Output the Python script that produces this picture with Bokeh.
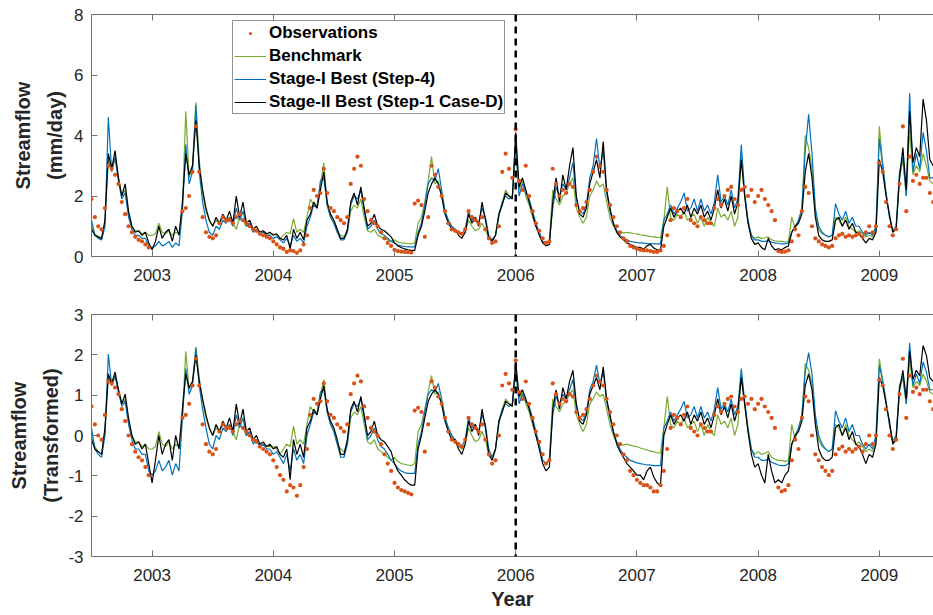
import numpy as np
from bokeh.plotting import figure
from bokeh.models import Span, FixedTicker, LinearAxis, Legend, LegendItem, Range1d
from bokeh.layouts import column
from bokeh.embed import file_html
from bokeh.resources import INLINE

nan = float("nan")

# ---------------- data ----------------
START_YEAR = 2002.5          # first sample (mid 2002)
STEPS_PER_YEAR = 36          # ~10-day samples
X_END = 2009.447
year_ticks = [2003, 2004, 2005, 2006, 2007, 2008, 2009]
split_year = 2006
top_y_ticks = [0, 2, 4, 6, 8]
bottom_y_ticks = [-3, -2, -1, 0, 1, 2, 3]
BOXCOX_LAMBDA = 0.35

# streamflow, mm/day
observations = [
    # 2002 (Jul-Dec)
    1.9, 1.3, 1.0, 0.9, 1.6, 3.0, 2.9, 2.7, 2.4, 1.8, 1.4, 1.0, 0.8, 0.65, 0.55, 0.5, 0.4, 0.3,
    # 2003
    nan, nan, nan, nan, nan, nan, nan, nan, nan, 1.5, 1.6, 2.0, 2.8, 4.3, 2.8, 1.3, 0.8, 0.65,
    0.6, 0.7, 1.1, 1.3, 1.2, 1.2, 1.1, 1.3, 1.4, 1.2, 1.1, 1.0, 0.9, 0.85, 0.75, 0.7, 0.65, 0.6,
    # 2004
    0.5, 0.4, 0.3, 0.25, 0.15, 0.2, 0.18, 0.12, 0.2, 0.4, 0.7, 1.6, 2.2, 2.0, 2.1, 2.9, 2.1, 1.6,
    1.5, 1.3, 1.2, 1.1, 1.3, 2.4, 2.9, 3.3, 3.0, 1.9, 1.5, 1.2, 1.1, 1.0, 0.8, 0.6, 0.45, 0.35,
    # 2005
    0.22, 0.18, 0.16, 0.15, 0.14, 0.13, 1.75, 1.85, 1.7, 0.65, 1.3, 3.0, 2.7, 2.3, 2.0, 1.5, 1.1, 0.9,
    0.85, 0.8, 0.75, 0.9, 1.5, 1.3, 1.2, 1.1, 1.3, 0.9, 0.6, 0.45, 0.5, 1.0, 2.8, 3.4, 2.9, 2.6,
    # 2006
    4.2, 2.5, 2.2, 3.0, 2.0, 1.5, 1.1, 0.85, 0.6, 0.45, 0.5, 2.9, 2.4, 2.0, 2.2, 2.1, 2.4, 2.3,
    1.7, 1.5, 1.6, 1.8, 2.2, 2.8, 3.3, 3.0, 2.8, 2.2, 1.7, 1.3, 1.0, 0.8, 0.6, 0.5, 0.35, 0.3,
    # 2007
    0.25, 0.22, 0.2, 0.2, 0.18, 0.15, 0.15, 0.2, 0.35, 0.7, 1.2, 1.6, 1.5, 1.3, 1.6, 1.9, 1.2, 1.1,
    1.0, 1.3, 1.2, 1.1, 1.1, 1.6, 1.9, 1.7, 2.0, 2.2, 2.3, 1.9, 1.7, 2.2, 2.3, 2.0, 2.2, 1.8,
    # 2008
    2.0, 2.2, 1.9, 1.7, 1.5, 1.2, 0.18, 0.15, 0.16, 0.2, 0.5, 0.9, 0.7, 1.5, 2.3, 2.1, 1.0, 0.6,
    0.5, 0.4, 0.35, 0.3, 0.35, 0.6, 0.7, 0.75, 0.65, 0.7, 0.65, 0.7, 0.75, 0.65, 0.8, 1.0, 0.8, 1.0,
    # 2009 (Jan-Jun)
    3.1, 2.8, 1.8, 1.0, 0.7, 0.9, 2.4, 4.3, 1.5, 3.3, 2.5, 2.7, 2.4, 2.6, 2.6, 2.1, 1.8,
]

benchmark = [
    # 2002 (Jul-Dec)
    1.0, 0.75, 0.65, 0.6, 1.1, 3.2, 2.9, 3.2, 2.6, 2.0, 2.2, 1.4, 1.0, 0.85, 0.85, 0.75, 0.8, 0.7,
    # 2003
    0.7, 0.75, 1.1, 0.8, 0.75, 0.85, 0.7, 0.8, 0.75, 1.6, 4.8, 2.6, 3.0, 5.1, 3.2, 2.1, 1.5, 1.2,
    1.0, 1.2, 1.1, 1.3, 1.2, 1.3, 1.1, 0.9, 1.3, 1.2, 1.0, 1.1, 0.9, 0.9, 0.8, 0.8, 0.75, 0.75,
    # 2004
    0.75, 0.7, 0.6, 0.7, 0.8, 0.75, 1.25, 0.8, 0.9, 0.8, 1.3, 1.9, 1.7, 1.7, 2.4, 3.1, 1.7, 1.3,
    1.1, 0.8, 0.7, 0.65, 0.8, 1.5, 1.7, 1.6, 1.9, 1.3, 0.85, 0.8, 0.9, 0.7, 0.65, 0.6, 0.55, 0.5,
    # 2005
    0.55, 0.48, 0.45, 0.44, 0.43, 0.42, 0.45, 1.1, 1.3, 1.8, 2.5, 3.3, 2.4, 2.5, 2.0, 1.5, 1.2, 1.0,
    0.85, 0.75, 0.7, 0.8, 1.2, 1.0, 0.85, 0.9, 1.1, 0.9, 0.6, 0.55, 0.7, 1.3, 1.8, 2.2, 2.0, 2.0,
    # 2006
    3.5, 2.2, 2.5, 2.0, 1.7, 1.3, 1.0, 0.75, 0.5, 0.45, 0.5, 2.2, 1.9, 1.7, 2.0, 2.1, 2.4, 2.6,
    1.6, 1.3, 1.1, 1.3, 2.0, 2.2, 2.5, 2.3, 2.4, 1.8, 1.3, 1.0, 0.85, 0.8, 0.78, 0.8, 0.78, 0.76,
    # 2007
    0.75, 0.72, 0.7, 0.68, 0.66, 0.65, 0.63, 0.62, 1.2, 2.3, 1.3, 1.2, 1.4, 1.3, 1.5, 1.2, 1.3, 1.4,
    1.1, 1.3, 1.0, 1.3, 1.1, 1.0, 1.6, 1.3, 1.4, 1.2, 1.5, 1.0, 1.3, 3.4, 2.0, 1.1, 0.7, 0.6,
    # 2008
    0.65, 0.6, 0.62, 0.65, 0.55, 0.52, 0.5, 0.5, 0.48, 0.5, 1.3, 0.9, 1.2, 1.5, 4.0, 3.6, 2.9, 1.4,
    0.9, 0.75, 0.7, 0.65, 0.7, 1.3, 1.2, 1.0, 1.3, 1.0, 0.9, 0.8, 0.85, 0.75, 0.65, 0.7, 0.65, 0.85,
    # 2009 (Jan-Jun)
    4.3, 3.1, 2.1, 1.3, 0.85, 1.0, 2.6, 3.2, 2.0, 4.2, 2.7, 3.0, 2.8, 3.4, 3.0, 2.5, 2.4,
]

stage1_best = [
    # 2002 (Jul-Dec)
    1.2, 0.7, 0.6, 0.55, 1.0, 4.6, 2.8, 3.3, 2.5, 1.9, 2.1, 1.3, 0.9, 0.7, 0.7, 0.6, 0.6, 0.35,
    # 2003
    0.3, 0.35, 0.5, 0.35, 0.4, 0.5, 0.3, 0.45, 0.35, 1.5, 3.7, 2.4, 2.8, 5.0, 2.8, 1.8, 1.2, 0.8,
    0.7, 1.0, 0.9, 1.2, 1.1, 1.3, 1.0, 1.6, 1.2, 1.5, 1.0, 1.1, 0.8, 0.9, 0.75, 0.8, 0.7, 0.7,
    # 2004
    0.6, 0.65, 0.55, 0.45, 0.6, 0.35, 0.7, 0.5, 0.6, 0.45, 1.0, 1.3, 1.7, 1.6, 2.5, 2.6, 1.7, 1.3,
    1.1, 0.8, 0.55, 0.55, 0.8, 1.7, 2.0, 1.9, 2.2, 1.5, 0.9, 1.0, 1.2, 0.9, 0.75, 0.7, 0.6, 0.5,
    # 2005
    0.45, 0.38, 0.35, 0.33, 0.32, 0.32, 0.32, 0.8, 1.1, 1.7, 2.4, 2.6, 2.5, 2.9, 2.2, 1.5, 1.2, 1.0,
    0.9, 0.8, 0.75, 0.9, 1.5, 1.2, 1.3, 1.1, 1.6, 1.3, 0.7, 0.55, 0.7, 1.4, 1.8, 2.0, 1.9, 2.0,
    # 2006
    3.8, 2.0, 2.4, 2.1, 1.9, 1.5, 1.1, 0.8, 0.5, 0.45, 0.5, 1.6, 2.3, 2.0, 2.4, 2.2, 2.6, 3.1,
    1.9, 1.5, 1.4, 1.7, 2.6, 3.0, 3.9, 2.9, 3.5, 2.1, 1.5, 1.1, 0.85, 0.7, 0.6, 0.55, 0.5, 0.48,
    # 2007
    0.46, 0.45, 0.44, 0.43, 0.43, 0.42, 0.42, 0.42, 1.2, 1.4, 1.7, 1.4, 1.6, 1.8, 2.1, 1.5, 1.6, 1.9,
    1.5, 1.9, 1.5, 1.7, 1.4, 1.8, 2.7, 1.8, 2.0, 1.7, 2.2, 1.6, 1.9, 3.7, 2.1, 1.2, 0.7, 0.55,
    # 2008
    0.55, 0.5, 0.5, 0.52, 0.47, 0.45, 0.43, 0.42, 0.42, 0.45, 0.8, 1.0, 1.2, 1.6, 3.5, 4.7, 3.4, 1.6,
    1.0, 0.8, 0.7, 0.65, 0.7, 1.75, 1.4, 1.2, 1.5, 1.1, 1.3, 1.0, 1.0, 0.8, 0.7, 0.8, 0.7, 1.0,
    # 2009 (Jan-Jun)
    3.9, 3.0, 2.1, 1.3, 0.85, 1.0, 2.8, 3.3, 2.0, 5.4, 2.8, 3.4, 2.9, 4.1, 3.5, 2.6, 2.6,
]

stage2_best = [
    # 2002 (Jul-Dec)
    0.9, 0.7, 0.65, 0.6, 1.2, 3.4, 2.9, 3.5, 2.6, 2.0, 2.4, 1.5, 1.0, 0.8, 0.85, 0.7, 0.8, 0.45,
    # 2003
    0.22, 0.5, 1.0, 0.6, 0.8, 0.9, 0.5, 1.0, 0.7, 1.8, 3.4, 2.7, 3.0, 4.5, 3.0, 2.2, 1.6, 1.2,
    1.0, 1.3, 1.1, 1.4, 1.2, 1.5, 1.1, 2.0, 1.3, 1.8, 1.1, 1.2, 0.9, 1.0, 0.8, 0.85, 0.75, 0.8,
    # 2004
    0.7, 0.75, 0.6, 0.55, 0.7, 0.25, 0.9, 0.6, 0.8, 0.55, 1.2, 1.4, 1.8, 1.6, 2.2, 2.8, 1.8, 1.4,
    1.2, 0.9, 0.6, 0.6, 0.9, 1.8, 2.1, 1.7, 2.3, 1.6, 1.0, 1.1, 1.4, 1.0, 0.9, 0.85, 0.75, 0.65,
    # 2005
    0.45, 0.35, 0.3, 0.25, 0.22, 0.2, 0.2, 0.7, 1.0, 1.5, 2.1, 2.4, 2.6, 2.4, 2.0, 1.4, 1.1, 0.9,
    0.9, 0.7, 0.6, 0.8, 1.4, 1.1, 1.3, 1.0, 1.8, 1.2, 0.6, 0.5, 0.7, 1.4, 1.7, 2.1, 2.0, 1.9,
    # 2006
    4.1, 2.3, 2.6, 2.2, 1.8, 1.4, 1.0, 0.7, 0.45, 0.35, 0.4, 1.8, 2.6, 1.8, 2.7, 2.2, 3.0, 3.6,
    2.0, 1.4, 1.3, 1.6, 2.4, 2.8, 3.2, 2.6, 3.8, 2.2, 1.6, 1.1, 0.8, 0.65, 0.55, 0.45, 0.4, 0.35,
    # 2007
    0.3, 0.3, 0.25, 0.35, 0.4, 0.28, 0.22, 0.2, 1.0, 1.3, 1.6, 1.3, 1.5, 1.6, 1.4, 1.7, 1.3, 1.6,
    1.4, 1.7, 1.3, 1.5, 1.2, 1.6, 2.2, 1.6, 1.9, 1.5, 2.0, 1.4, 1.8, 3.2, 2.0, 1.1, 0.6, 0.4,
    # 2008
    0.45, 0.3, 0.22, 0.6, 0.35, 0.22, 0.25, 0.22, 0.3, 0.35, 0.8, 1.0, 1.1, 1.4, 2.8, 3.4, 2.6, 1.3,
    0.7, 0.55, 0.5, 0.5, 0.55, 1.2, 1.3, 1.0, 1.2, 0.9, 1.1, 0.8, 0.75, 0.6, 0.45, 0.6, 0.55, 0.8,
    # 2009 (Jan-Jun)
    3.2, 2.8, 2.0, 1.4, 0.8, 0.9, 2.6, 3.6, 2.2, 4.8, 3.1, 3.6, 3.3, 5.2, 4.5, 3.2, 3.0,
]

assert len(observations) == len(benchmark) == len(stage1_best) == len(stage2_best)

t = START_YEAR + np.arange(len(observations)) / STEPS_PER_YEAR


def boxcox(q):
    q = np.asarray(q, dtype=float)
    return (q ** BOXCOX_LAMBDA - 1.0) / BOXCOX_LAMBDA


# ---------------- styling ----------------
FONT = "Liberation Sans"
AXIS_COLOR = "#707070"
TEXT_COLOR = "#262626"
C_OBS = "#D95319"
C_BENCH = "#77AC30"
C_S1 = "#0072BD"
C_S2 = "#000000"
FIG_W = 933
LEFT = 91


def style_axis(ax, ticks):
    ax.ticker = FixedTicker(ticks=ticks)
    ax.axis_line_color = AXIS_COLOR
    ax.axis_line_width = 1
    ax.major_tick_line_color = AXIS_COLOR
    ax.major_tick_in = 6
    ax.major_tick_out = 0
    ax.minor_tick_line_color = None
    ax.major_label_text_font = FONT
    ax.major_label_text_font_size = "17px"
    ax.major_label_text_color = TEXT_COLOR
    ax.axis_label_text_font = FONT
    ax.axis_label_text_font_size = "20px"
    ax.axis_label_text_font_style = "bold"
    ax.axis_label_text_color = TEXT_COLOR
    ax.axis_label_text_line_height = 1.45


def make_panel(height, top_border, bottom_border, y0, y1, yticks, ylabel,
               xlabel_std, ylabel_std):
    p = figure(width=FIG_W, height=height,
               x_range=Range1d(START_YEAR, X_END), y_range=Range1d(y0, y1),
               output_backend="svg", toolbar_location=None,
               min_border_left=LEFT, min_border_right=0,
               min_border_top=top_border, min_border_bottom=bottom_border)
    p.outline_line_color = None
    p.grid.visible = False
    p.background_fill_color = "white"
    p.border_fill_color = "white"
    xax = p.xaxis[0]
    yax = p.yaxis[0]
    style_axis(xax, year_ticks)
    style_axis(yax, yticks)
    xax.major_label_standoff = xlabel_std
    yax.major_label_standoff = 8
    yax.major_label_overrides = {v: str(v) for v in yticks if v < 0}
    yax.axis_label = ylabel
    yax.axis_label_standoff = ylabel_std

    top_axis = LinearAxis()
    style_axis(top_axis, year_ticks)
    top_axis.major_label_overrides = {yr: "" for yr in year_ticks}
    top_axis.major_label_text_font_size = "1px"
    top_axis.major_label_standoff = 0
    p.add_layout(top_axis, "above")

    p.add_layout(Span(location=split_year, dimension="height", line_color="black",
                      line_width=2.5, line_dash="7 5"))
    return p, xax


def draw_series(p, obs, bench, s1, s2):
    r_b = p.line(t, bench, line_color=C_BENCH, line_width=1.2)
    r_1 = p.line(t, s1, line_color=C_S1, line_width=1.2)
    r_2 = p.line(t, s2, line_color=C_S2, line_width=1.2)
    r_o = p.scatter(t, obs, marker="circle", size=4.2, fill_color=C_OBS, line_color=None)
    return r_o, r_b, r_1, r_2


# top panel
p1, _ = make_panel(300, 14, 44, 0, 8, top_y_ticks, "Streamflow\n(mm/day)", 12, 5)
r_o, r_b, r_1, r_2 = draw_series(p1, observations, benchmark, stage1_best, stage2_best)

legend = Legend(items=[
    LegendItem(label="Observations", renderers=[r_o]),
    LegendItem(label="Benchmark", renderers=[r_b]),
    LegendItem(label="Stage-I Best (Step-4)", renderers=[r_1]),
    LegendItem(label="Stage-II Best (Step-1 Case-D)", renderers=[r_2]),
], location=(141, 142))
legend.label_text_font = FONT
legend.label_text_font_size = "17px"
legend.label_text_font_style = "bold"
legend.label_text_color = "black"
legend.border_line_color = "#262626"
legend.border_line_width = 1
legend.background_fill_color = "white"
legend.background_fill_alpha = 1
legend.padding = 1
legend.spacing = 2
legend.margin = 0
legend.glyph_width = 32
legend.glyph_height = 8
legend.label_height = 21
legend.label_standoff = 3
p1.add_layout(legend)

# bottom panel
p2, x2 = make_panel(315, 14, 59, -3, 3, bottom_y_ticks, "Streamflow\n(Transformed)", 12, 3)
draw_series(p2, boxcox(observations), boxcox(benchmark), boxcox(stage1_best), boxcox(stage2_best))
x2.axis_label = "Year"
x2.axis_label_text_font_size = "20px"
x2.axis_label_standoff = 4

layout = column(p1, p2, spacing=0)
open("out.html", "w").write(file_html(layout, INLINE))
